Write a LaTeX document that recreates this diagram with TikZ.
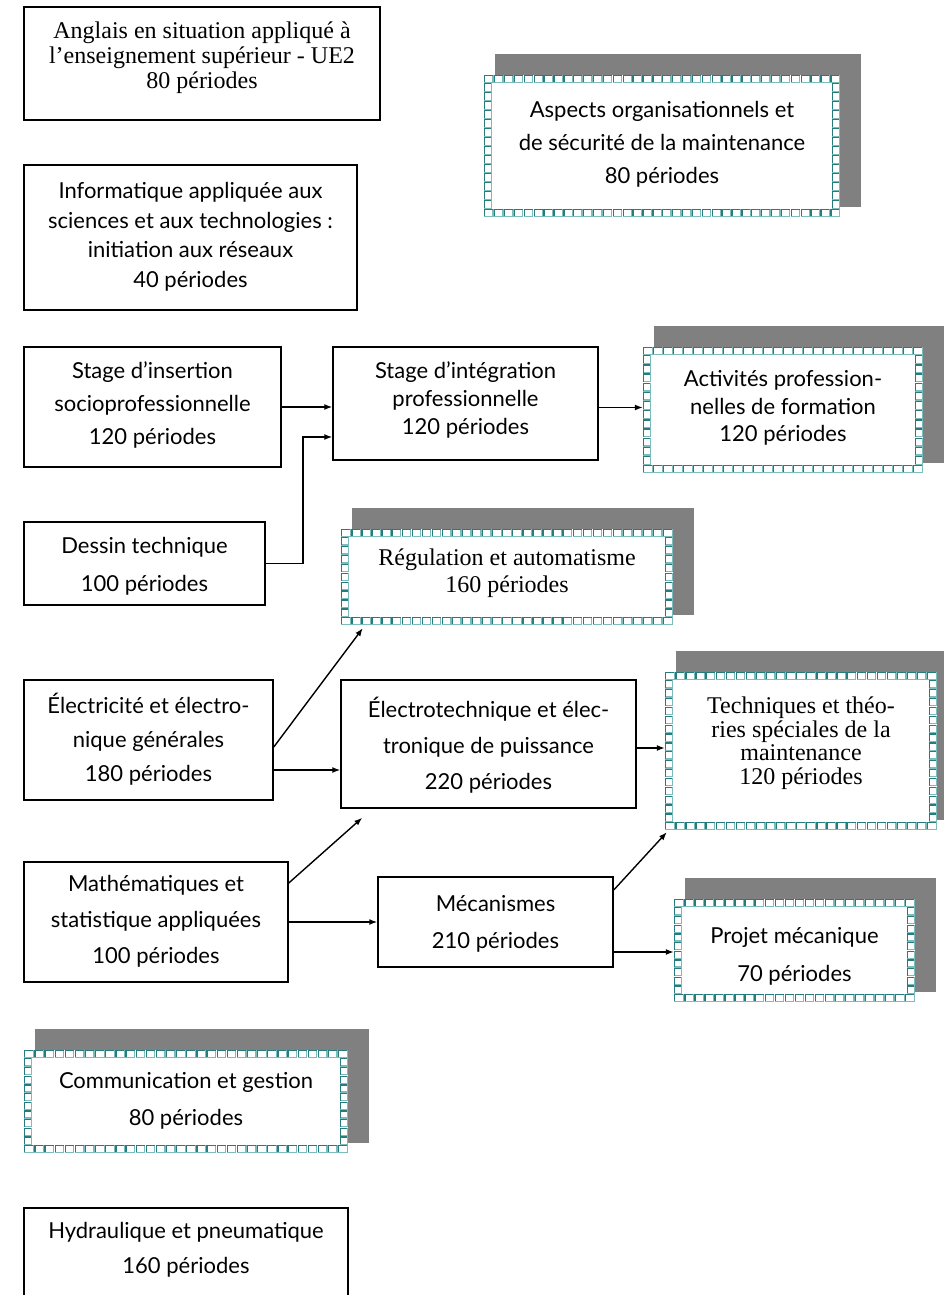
\documentclass[tikz,border=0pt]{standalone}
\usepackage{fontspec}
\setmainfont{Liberation Serif}
\setsansfont{Lato}
\usetikzlibrary{arrows.meta,calc}
\definecolor{shadowgray}{RGB}{128,128,128}
\definecolor{tealdark}{RGB}{38,124,124}
\definecolor{teallight}{RGB}{125,188,188}
\newcommand\sfs[1]{\sffamily\fontsize{22}{#1}\selectfont}
\newcommand\tms[1]{\rmfamily\fontsize{24}{#1}\selectfont}
\tikzset{
  boxn/.style={draw=black, line width=1.5pt, fill=white, inner sep=0pt},
  artn/.style={draw=none, fill=white, inner sep=0pt},
  txt/.style={align=center, inner sep=0pt},
  sql/.style={draw=teallight, line width=1.3pt, fill=white},
  sqd/.style={draw=tealdark, line width=1.3pt},
  arr/.style={-{Latex[length=8pt,width=6pt]}, line width=1.4pt},
}
\newcommand\sqr[4]{%
  \draw[sql] ({#1},{#2}) rectangle ({#1+#3},{#2+#4});
  \draw[sqd] ({#1},{#2+#4}) -- ({#1},{#2}) -- ({#1+#3},{#2});
}
% #1 name, #2 x1, #3 y1, #4 x2, #5 y2, #6 font, #7 text, #8 text centre y
\newcommand\plainbox[8]{%
  \node[boxn, minimum width={(#4-#2)*1pt}, minimum height={(#5-#3)*1pt}] (#1) at ({(#2+#4)/2},{(#3+#5)/2}) {};
  \node[txt, font={#6}] (#1-t) at ({(#2+#4)/2},#8) {#7};
}
\newcommand\artbox[8]{%
  \fill[shadowgray] ({#2+11},{#3-21}) rectangle ({#4+21},{#5-10});
  \node[artn, minimum width={(#4-#2)*1pt}, minimum height={(#5-#3)*1pt}] (#1) at ({(#2+#4)/2},{(#3+#5)/2}) {};
  \pgfmathtruncatemacro\abN{round((#4-#2)/10)}%
  \pgfmathsetmacro\abW{(#4-#2)/\abN}%
  \foreach \i in {1,...,\abN}{%
    \pgfmathsetmacro\sx{#2+(\i-1)*\abW+0.8}%
    \sqr{\sx}{#3+0.8}{\abW-1.6}{6.4}%
    \sqr{\sx}{#5-8+0.8}{\abW-1.6}{6.4}%
  }%
  \pgfmathtruncatemacro\abM{round((#5-#3-16)/9)}%
  \pgfmathsetmacro\abH{(#5-#3-16)/\abM}%
  \foreach \j in {1,...,\abM}{%
    \pgfmathsetmacro\sy{#3+8+(\j-1)*\abH+0.8}%
    \sqr{#2+0.8}{\sy}{6.4}{\abH-1.6}%
    \sqr{#4-8+0.8}{\sy}{6.4}{\abH-1.6}%
  }%
  \node[txt, font={#6}] (#1-t) at ({(#2+#4)/2},#8) {#7};
}
\begin{document}
\begin{tikzpicture}[x=1pt,y=-1pt]
\useasboundingbox (0,0) rectangle (944,1295);
\clip (0,0) rectangle (944,1295);

\plainbox{angl}{24}{7}{380}{120}{\tms{25}}{Anglais en situation appliqué à\\l’enseignement supérieur - UE2\\80 périodes}{58}
\plainbox{info}{24}{165}{357}{310}{\sfs{29.5}}{Informatique appliquée aux\\sciences et aux technologies :\\initiation aux réseaux\\40 périodes}{237}
\artbox{asp}{484}{75}{840}{217}{\sfs{33}}{Aspects organisationnels et\\de sécurité de la maintenance\\80 périodes}{144}

\plainbox{ins}{24}{347}{281}{467}{\sfs{33}}{Stage d’insertion\\socioprofessionnelle\\120 périodes}{405}
\plainbox{integ}{333}{347}{598}{460}{\sfs{28}}{Stage d’intégration\\professionnelle\\120 périodes}{400}
\artbox{act}{643}{347}{923}{473}{\sfs{27.5}}{Activités profession-\\nelles de formation\\120 périodes}{408}

\plainbox{dessin}{24}{522}{265}{605}{\sfs{38}}{Dessin technique\\100 périodes}{566}
\artbox{reg}{341}{529}{673}{625}{\tms{27}}{Régulation et automatisme\\160 périodes}{573}

\plainbox{elec}{24}{680}{273}{800}{\sfs{34}}{Électricité et électro-\\nique générales\\180 périodes}{739}
\plainbox{elt}{341}{680}{636}{808}{\sfs{36}}{Électrotechnique et élec-\\tronique de puissance\\220 périodes}{745}
\artbox{tech}{665}{672}{937}{830}{\tms{23.5}}{Techniques et théo-\\ries spéciales de la\\maintenance\\120 périodes}{743}

\plainbox{math}{24}{862}{288}{982}{\sfs{36}}{Mathématiques et\\statistique appliquées\\100 périodes}{921}
\plainbox{mec}{378}{877}{613}{967}{\sfs{37}}{Mécanismes\\210 périodes}{924}
\artbox{proj}{674}{899}{915}{1002}{\sfs{38}}{Projet mécanique\\70 périodes}{956}

\artbox{comm}{24}{1050}{348}{1153}{\sfs{37}}{Communication et gestion\\80 périodes}{1101}
\plainbox{hyd}{24}{1208}{348}{1330}{\sfs{35}}{Hydraulique et pneumatique\\160 périodes}{1250}

% connectors
\draw[arr] (ins.east) -- (ins.east -| integ.west);
\coordinate (bend) at (303,437);
\draw[arr] (dessin.east) -| (bend) -- (bend -| integ.west);
\coordinate (i1) at ($(integ.east)+(0,4)$);
\draw[arr] (i1) -- (i1 -| act.west);

\coordinate (e1) at ($(elec.east)+(0,7)$);
\draw[arr] (e1) -- ($(reg.south west)+(22,3)$);
\coordinate (e2) at ($(elec.east)+(0,30)$);
\draw[arr] (e2) -- (e2 -| elt.west);
\coordinate (t1) at ($(elt.east)+(0,4)$);
\draw[arr] (t1) -- (t1 -| tech.west);

\coordinate (m1) at ($(math.east)+(0,-39)$);
\draw[arr] (m1) -- ($(elt.south west)+(22,9)$);
\draw[arr] (math.east) -- (math.east -| mec.west);
\coordinate (c1) at ($(mec.east)+(0,-32)$);
\draw[arr] (c1) -- ($(tech.south west)+(2,2)$);
\coordinate (c2) at ($(mec.east)+(0,30)$);
\draw[arr] (c2) -- (c2 -| proj.west);
\end{tikzpicture}
\end{document}
